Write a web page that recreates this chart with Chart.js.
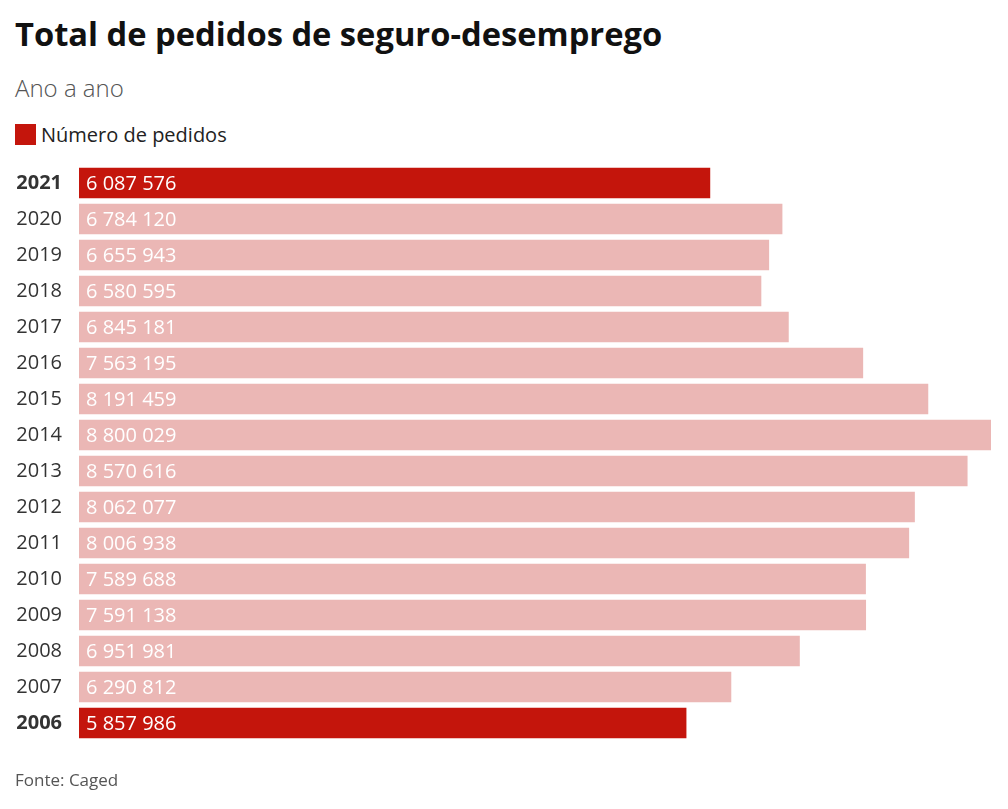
<!DOCTYPE html>
<html>
<head>
<meta charset="utf-8">
<script src="https://cdn.jsdelivr.net/npm/chart.js@4"></script>
<style>
  body { margin: 0; background: #fff; font-family: "Open Sans", sans-serif; width: 1008px; height: 809px; position: relative; overflow: hidden; }
  h1 { position: absolute; left: 15px; top: 11px; margin: 0; font-size: 32.7px; font-weight: 700; color: #111; letter-spacing: 0; }
  .sub { position: absolute; left: 15px; top: 71px; font-size: 24px; color: #555; font-weight: 300; }
  .legend { position: absolute; left: 15px; top: 121px; font-size: 20px; color: #222; display: flex; align-items: center; }
  .legend span.box { width: 21px; height: 21px; background: #c4150c; margin-right: 5px; display: inline-block; }
  .foot { position: absolute; left: 15px; top: 768px; font-size: 17px; color: #555; }
  #wrap { position: absolute; left: 0; top: 136px; width: 1008px; height: 634px; }
</style>
</head>
<body>
<h1>Total de pedidos de seguro-desemprego</h1>
<div class="sub">Ano a ano</div>
<div class="legend"><span class="box"></span>Número de pedidos</div>
<div id="wrap"><canvas id="chart"></canvas></div>
<div class="foot">Fonte: Caged</div>
<script>
const years = ['2021', '2020', '2019', '2018', '2017', '2016', '2015', '2014', '2013', '2012', '2011', '2010', '2009', '2008', '2007', '2006'];
const pedidos = [6087576, 6784120, 6655943, 6580595, 6845181, 7563195, 8191459, 8800029, 8570616, 8062077, 8006938, 7589688, 7591138, 6951981, 6290812, 5857986];
const highlight = ['2021', '2006'];

const dark = '#c4150c';
const light = '#ebb7b5';

function fmt(n) {
  return String(n).replace(/\B(?=(\d{3})+(?!\d))/g, ' ');
}

// draws the numbers inside the bars
const valueLabels = {
  id: 'valueLabels',
  afterDatasetsDraw(chart) {
    const ctx = chart.ctx;
    const meta = chart.getDatasetMeta(0);
    ctx.save();
    ctx.font = '20px "Open Sans"';
    ctx.fillStyle = '#fff';
    ctx.textBaseline = 'middle';
    meta.data.forEach((bar, i) => {
      ctx.fillText(fmt(pedidos[i]), bar.base + 7, bar.y + 1);
    });
    ctx.restore();
  }
};

new Chart(document.getElementById('chart'), {
  type: 'bar',
  data: {
    labels: years,
    datasets: [{
      label: 'Número de pedidos',
      data: pedidos,
      backgroundColor: years.map(y => highlight.includes(y) ? dark : light),
      barThickness: 30,
      borderWidth: 0
    }]
  },
  options: {
    indexAxis: 'y',
    responsive: true,
    maintainAspectRatio: false,
    animation: false,
    layout: { padding: { top: 4, bottom: 4, right: 17, left: 0 } },
    scales: {
      x: { display: false, min: 0, max: 8800029 },
      y: {
        grid: { display: false, drawTicks: false },
        border: { display: false },
        afterFit(scale) { scale.width = 79; },
        ticks: {
          padding: 17,
          color: '#333',
          font: ctx => ({
            family: 'Open Sans',
            size: 20,
            weight: highlight.includes(years[ctx.index]) ? '700' : '400'
          })
        }
      }
    },
    plugins: {
      legend: { display: false },
      tooltip: { enabled: false }
    }
  },
  plugins: [valueLabels]
});
</script>
</body>
</html>
